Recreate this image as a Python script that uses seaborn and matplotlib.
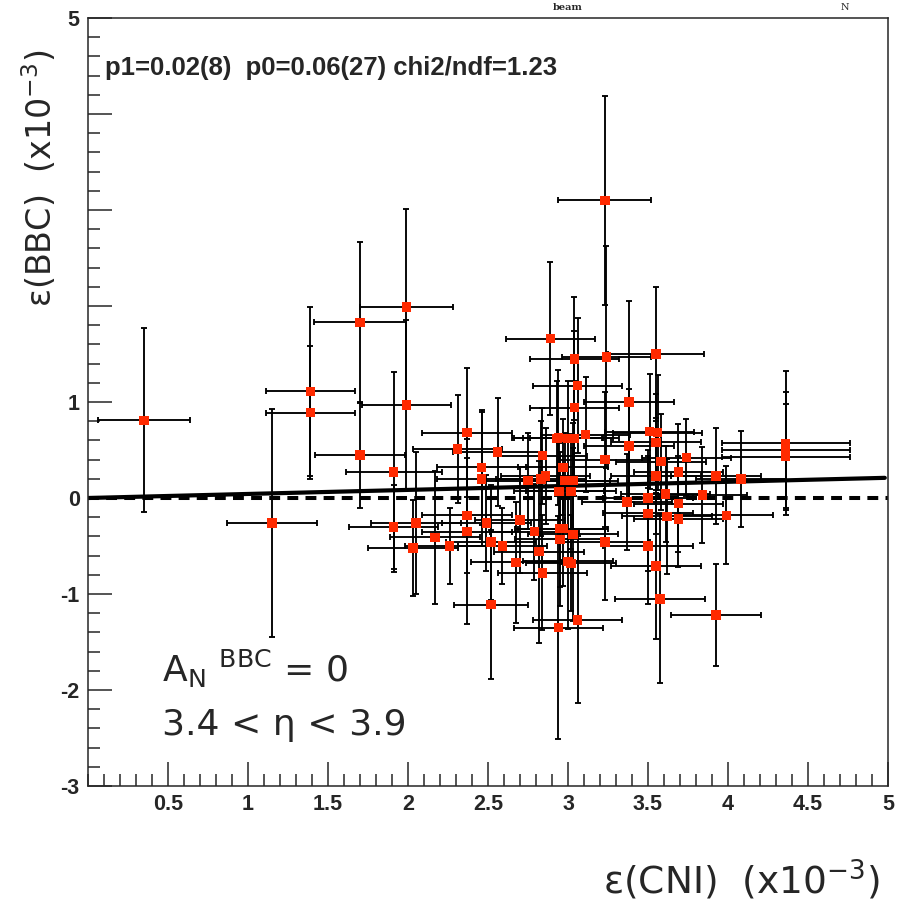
import numpy as np
import pandas as pd
import seaborn as sns
import matplotlib.pyplot as plt

# points: CNI asymmetry (x) vs BBC asymmetry (y), both x10^-3
x = [0.35, 1.15, 1.39, 1.39, 1.70, 1.70, 1.99, 1.99, 1.91, 1.91,
     2.05, 2.17, 2.26, 2.03, 2.37, 2.31, 2.56, 2.37, 2.37, 2.46,
     2.46, 2.49, 2.52, 2.52, 2.59, 2.70, 2.675, 2.79, 2.82, 2.84,
     2.75, 2.83, 2.86, 2.84, 2.89, 2.94, 2.93, 3.00, 3.04, 3.04,
     3.06, 3.04, 3.11, 2.97, 2.98, 3.03, 2.945, 3.02, 2.95, 2.97,
     2.95, 3.03, 3.00, 3.02, 3.06, 2.94, 3.23, 3.24, 3.55, 3.38,
     3.51, 3.56, 3.55, 3.38, 3.23, 3.58, 3.74, 3.69, 3.925, 3.55,
     4.08, 4.36, 4.36, 4.36, 3.37, 3.50, 3.61, 3.69, 3.84, 3.50,
     3.62, 3.69, 3.99, 3.23, 3.50, 3.55, 3.575, 3.925]
y = [0.81, -0.26, 1.11, 0.89, 1.83, 0.45, 1.99, 0.97, 0.27, -0.30,
     -0.26, -0.41, -0.50, -0.52, 0.68, 0.51, 0.48, -0.18, -0.35, 0.32,
     0.20, -0.26, -0.46, -1.11, -0.50, -0.23, -0.67, -0.35, -0.56, -0.78,
     0.18, 0.20, 0.23, 0.44, 1.66, 0.63, 0.62, 0.62, 0.62, 1.45,
     1.17, 0.94, 0.66, 0.32, 0.18, 0.18, 0.07, 0.07, -0.32, -0.32,
     -0.43, -0.38, -0.66, -0.68, -1.27, -1.35, 3.10, 1.47, 1.50, 1.00,
     0.69, 0.68, 0.58, 0.54, 0.40, 0.38, 0.42, 0.27, 0.23, 0.23,
     0.20, 0.57, 0.50, 0.43, -0.04, 0.00, 0.04, -0.06, 0.03, -0.16,
     -0.19, -0.22, -0.18, -0.46, -0.50, -0.71, -1.05, -1.22]
x_err = [0.285, 0.28, 0.28, 0.28, 0.29, 0.28, 0.29, 0.28, 0.30, 0.28,
         0.28, 0.28, 0.28, 0.28, 0.28, 0.28, 0.28, 0.28, 0.28, 0.28,
         0.28, 0.28, 0.28, 0.23, 0.28, 0.28, 0.28, 0.28, 0.28, 0.28,
         0.28, 0.28, 0.28, 0.28, 0.28, 0.28, 0.28, 0.28, 0.28, 0.28,
         0.28, 0.28, 0.28, 0.28, 0.28, 0.28, 0.28, 0.28, 0.28, 0.28,
         0.28, 0.28, 0.28, 0.28, 0.28, 0.28, 0.29, 0.28, 0.30, 0.28,
         0.28, 0.28, 0.28, 0.28, 0.28, 0.28, 0.28, 0.28, 0.28, 0.28,
         0.28, 0.40, 0.40, 0.40, 0.28, 0.28, 0.28, 0.28, 0.28, 0.28,
         0.28, 0.28, 0.29, 0.28, 0.28, 0.28, 0.28, 0.28]
y_err = [0.96, 1.19, 0.88, 0.69, 0.84, 0.55, 1.02, 0.88, 1.04, 0.44,
         0.74, 0.69, 0.40, 0.50, 0.67, 0.56, 0.56, 0.60, 0.96, 0.60,
         0.70, 0.50, 0.60, 0.78, 0.40, 0.55, 0.63, 0.50, 0.95, 0.60,
         0.50, 0.60, 0.50, 0.50, 0.80, 0.70, 0.60, 0.60, 0.60, 0.64,
         0.70, 0.80, 0.60, 0.50, 0.50, 0.60, 0.50, 0.60, 0.80, 0.60,
         0.50, 0.90, 0.70, 0.50, 0.87, 1.16, 1.09, 1.16, 0.70, 1.05,
         0.60, 0.60, 0.50, 0.60, 0.70, 0.50, 0.40, 0.50, 0.50, 0.60,
         0.50, 0.75, 0.60, 0.55, 0.50, 0.50, 0.50, 0.50, 0.50, 0.60,
         0.60, 0.50, 0.51, 0.60, 0.60, 0.76, 0.88, 0.53]

# straight-line fit as drawn
fit_x = [0.0, 4.98]
fit_y = [0.0, 0.21]

x_ticks = [0.5, 1, 1.5, 2, 2.5, 3, 3.5, 4, 4.5, 5]
y_ticks = [-3, -2, -1, 0, 1, 2, 3, 4, 5]
y_labels = ["-3", "-2", "-1", "0", "1", "", "", "", "5"]

df = pd.DataFrame({"x": x, "y": y, "xerr": x_err, "yerr": y_err})

sns.set_style("ticks")
plt.rcParams["font.family"] = ["DejaVu Sans"]
plt.rcParams["mathtext.fontset"] = "dejavusans"

bold = ["Liberation Sans Narrow", "Liberation Sans", "DejaVu Sans"]

fig = plt.figure(figsize=(9.05, 9.06), dpi=100)
ax = fig.add_axes([88 / 905, 1 - 786 / 906, 800 / 905, 768 / 906])

ax.axhline(0, color="black", lw=2.9, ls=(0, (2.7, 1.8)), zorder=1)
ax.errorbar(df["x"], df["y"], xerr=df["xerr"], yerr=df["yerr"], fmt="none",
            ecolor="black", elinewidth=1.35, capsize=2.4, capthick=1.35, zorder=2)
sns.lineplot(x=fit_x, y=fit_y, color="black", lw=3, ax=ax, zorder=2.5)
sns.scatterplot(data=df, x="x", y="y", marker="s", color="#ff2a00", s=46,
                edgecolor="none", linewidth=0, ax=ax, zorder=3)

ax.set_xlim(0, 5)
ax.set_ylim(-3, 5)
ax.set_xticks(x_ticks)
ax.set_xticklabels([f"{t:g}" for t in x_ticks])
ax.set_yticks(y_ticks)
ax.set_yticklabels(y_labels)
ax.set_xticks(np.arange(0, 5.001, 0.1), minor=True)
ax.set_yticks(np.arange(-3, 5.001, 0.2), minor=True)
ax.tick_params(which="both", direction="in", top=False, right=False, width=1.1)
ax.tick_params(which="major", length=17, pad=6)
ax.tick_params(which="minor", length=8.5)
for lab in ax.get_xticklabels() + ax.get_yticklabels():
    lab.set_family(bold)
    lab.set_fontweight("bold")
    lab.set_fontsize(15.5)
for sp in ax.spines.values():
    sp.set_visible(True)
    sp.set_linewidth(1.1)
ax.set_xlabel("")
ax.set_ylabel("")

ax.text(0.021, 0.935, "p1=0.02(8)  p0=0.06(27) chi2/ndf=1.23", transform=ax.transAxes,
        family=bold, fontweight="bold", fontsize=18.5, va="center", ha="left")

ax.text(0.092, 0.135, r"A$_\mathrm{N}$ $^\mathrm{BBC}$ = 0", transform=ax.transAxes,
        fontsize=26, va="baseline", ha="left")
ax.text(0.092, 0.066, "3.4 < η < 3.9", transform=ax.transAxes,
        fontsize=26, va="baseline", ha="left")

fig.text(40 / 905, 1 - 178 / 906, r"ε(BBC)  (x10$^{-3}$)", rotation=90,
         fontsize=24, ha="center", va="center")
fig.text(880 / 905, 1 - 880 / 906, r"ε(CNI)  (x10$^{-3}$)",
         fontsize=27, ha="right", va="center")

# small remnants of the text above the original frame
fig.text(568 / 905, 1 - 7 / 906, "beam", family="DejaVu Serif", fontweight="bold",
         fontsize=7, ha="center", va="center")
fig.text(845 / 905, 1 - 7 / 906, "N", family="DejaVu Serif", fontsize=7,
         ha="center", va="center")

fig.savefig("out.png", dpi=100)
